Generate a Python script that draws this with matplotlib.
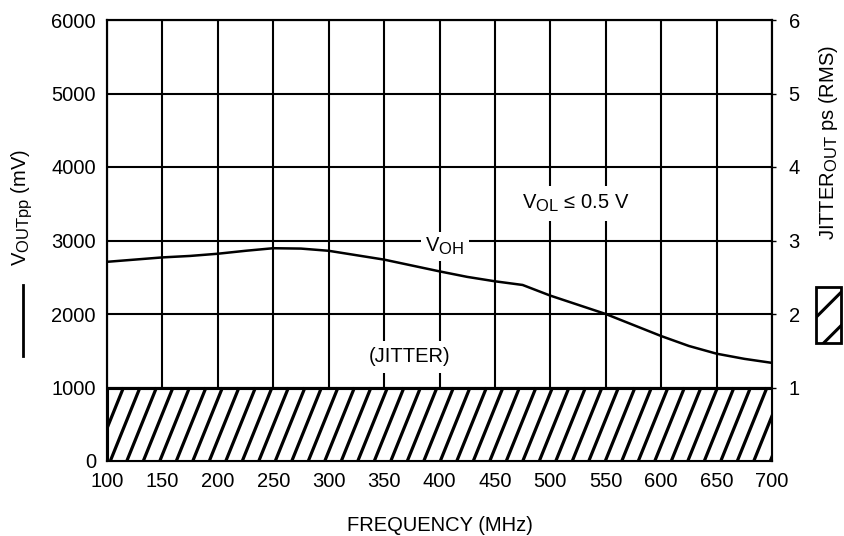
import matplotlib
matplotlib.use("Agg")
import numpy as np
import matplotlib.pyplot as plt
import matplotlib._mathtext as _mt
from matplotlib.patches import Rectangle
from matplotlib.lines import Line2D
from matplotlib.collections import LineCollection

plt.rcParams['font.family'] = ['Liberation Sans', 'DejaVu Sans']
plt.rcParams['mathtext.fontset'] = 'custom'
plt.rcParams['mathtext.rm'] = 'Liberation Sans'
plt.rcParams['mathtext.it'] = 'Liberation Sans'
plt.rcParams['hatch.linewidth'] = 2.2
_mt.SHRINK_FACTOR = 0.82  # larger subscripts like the reference

# Data
freq_mhz = [100, 125, 150, 175, 200, 225, 250, 275, 300, 325, 350, 375, 400,
            425, 450, 475, 500, 525, 550, 575, 600, 625, 650, 675, 700]
voh_mv = [2710, 2740, 2770, 2790, 2820, 2860, 2895, 2890, 2860, 2800, 2740, 2660, 2580,
          2505, 2445, 2395, 2250, 2125, 2000, 1850, 1700, 1565, 1460, 1390, 1335]
jitter_range_mhz = [100, 700]
jitter_max_ps = 1.0

x_ticks = [100, 150, 200, 250, 300, 350, 400, 450, 500, 550, 600, 650, 700]
y_ticks = [0, 1000, 2000, 3000, 4000, 5000, 6000]
y2_ticks = [1, 2, 3, 4, 5, 6]

W_PX, H_PX = 665, 441
fig = plt.figure(figsize=(8.44, 5.36), dpi=100)
ax = fig.add_axes([107/844, 75/536, W_PX/844, H_PX/536])
ax2 = ax.twinx()

fs = 14.5
ax.set_xlim(100, 700)
ax.set_ylim(0, 6000)
ax.set_xticks(x_ticks)
ax.set_yticks(y_ticks)
ax.grid(True, color='black', linewidth=1.5)
ax.tick_params(axis='both', labelsize=fs, length=0, pad=8, colors='black')
for s in ax.spines.values():
    s.set_linewidth(1.5)

ax.plot(freq_mhz, voh_mv, color='black', linewidth=1.8, zorder=2.5)

ax2.set_ylim(0, 6)
ax2.set_yticks(y2_ticks)
ax2.tick_params(axis='y', labelsize=fs, length=3, width=1, pad=9)
for s in ax2.spines.values():
    s.set_linewidth(1.5)

# Jitter region (white box, steep hatch lines clipped to it)
jit_box = Rectangle((jitter_range_mhz[0], 0), jitter_range_mhz[1] - jitter_range_mhz[0],
                    jitter_max_ps, facecolor='white', edgecolor='black', linewidth=2.2, zorder=3)
ax2.add_patch(jit_box)
box_h_px = jitter_max_ps / 6 * H_PX
spacing_px = 16.5
angle = np.deg2rad(68)
dx_px = box_h_px / np.tan(angle)
offs = np.arange(-dx_px, W_PX + spacing_px, spacing_px)
segs = [[(o / W_PX, 0), ((o + dx_px) / W_PX, box_h_px / H_PX)] for o in offs]
lc = LineCollection(segs, colors='black', linewidths=2.3, transform=ax2.transAxes, zorder=3.1)
lc.set_clip_path(jit_box)
ax2.add_collection(lc)
edge = Rectangle((jitter_range_mhz[0], 0), jitter_range_mhz[1] - jitter_range_mhz[0],
                 jitter_max_ps, facecolor='none', edgecolor='black', linewidth=2.2, zorder=3.2)
ax2.add_patch(edge)

ax.set_xlabel('FREQUENCY (MHz)', fontsize=fs, labelpad=18)

ax.text(405, 2920, r'V$_{\mathrm{OH}}$', fontsize=fs, ha='center', va='center',
        bbox=dict(facecolor='white', edgecolor='none', pad=3), zorder=4)
ax.text(523, 3510, r'V$_{\mathrm{OL}}$ ≤ 0.5 V', fontsize=fs, ha='center', va='center',
        bbox=dict(facecolor='white', edgecolor='none', pad=5), zorder=4)
ax.text(373, 1415, '(JITTER)', fontsize=fs, ha='center', va='center',
        bbox=dict(facecolor='white', edgecolor='none', pad=5), zorder=4)

# Axis titles as figure text with legend markers
fig.text(22/844, 1 - 207/536, r'V$_{\mathrm{OUTpp}}$ (mV)', fontsize=fs, rotation=90,
         ha='center', va='center')
fig.add_artist(Line2D([23/844, 23/844], [1 - 285/536, 1 - 356/536], color='black',
                      linewidth=2, transform=fig.transFigure))
fig.text(828/844, 1 - 142/536, r'JITTER$_{\mathrm{OUT}}$ ps (RMS)', fontsize=fs, rotation=90,
         ha='center', va='center')
fig.add_artist(Rectangle((816/844, 1 - 343/536), 25/844, 56/536, transform=fig.transFigure,
                         facecolor='white', edgecolor='black', hatch='/', linewidth=2))

fig.savefig('out.png', dpi=100)
